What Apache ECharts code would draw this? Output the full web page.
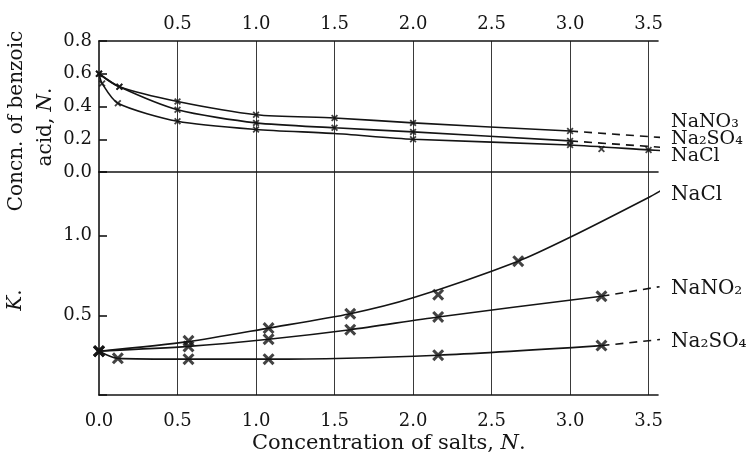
<!DOCTYPE html>
<html>
<head>
<meta charset="utf-8">
<script src="https://cdn.jsdelivr.net/npm/echarts@6/dist/echarts.min.js"></script>
<style>
html,body{margin:0;padding:0;background:#fff;}
#chart{width:746px;height:454px;}
</style>
</head>
<body>
<div id="chart"></div>
<script>
// upper panel - concn. of benzoic acid
var topNO3X = [0, 0.13, 0.5, 1.0, 1.5, 2.0, 3.0];
var topNO3Y = [0.60, 0.52, 0.43, 0.35, 0.33, 0.30, 0.25];
var topNO3DashX = [3.0, 3.59];
var topNO3DashY = [0.25, 0.21];

var topSO4X = [0, 0.13, 0.5, 1.0, 1.5, 2.0, 3.0];
var topSO4Y = [0.60, 0.52, 0.38, 0.30, 0.27, 0.245, 0.19];
var topSO4DashX = [3.0, 3.59];
var topSO4DashY = [0.19, 0.15];

var topClX = [0, 0.02, 0.12, 0.5, 1.0, 1.5, 2.0, 3.0, 3.5, 3.59];
var topClY = [0.60, 0.54, 0.42, 0.31, 0.26, 0.235, 0.20, 0.165, 0.135, 0.13];
var topClMarkX = [0, 0.02, 0.12, 0.5, 1.0, 2.0, 3.0, 3.2, 3.5];
var topClMarkY = [0.60, 0.54, 0.42, 0.31, 0.26, 0.20, 0.165, 0.14, 0.135];

// lower panel - K
var kClX = [0, 0.57, 1.08, 1.6, 2.0, 2.67, 3.0, 3.5, 3.59];
var kClY = [0.275, 0.335, 0.42, 0.51, 0.61, 0.84, 0.99, 1.24, 1.29];
var kClMarkX = [0, 0.57, 1.08, 1.6, 2.16, 2.67];
var kClMarkY = [0.275, 0.34, 0.42, 0.51, 0.63, 0.84];

var kNO2X = [0, 0.57, 1.08, 1.6, 2.16, 3.2];
var kNO2Y = [0.275, 0.305, 0.35, 0.41, 0.49, 0.62];
var kNO2DashX = [3.2, 3.57];
var kNO2DashY = [0.62, 0.68];

var kSO4X = [0, 0.12, 0.57, 1.08, 2.16, 3.2];
var kSO4Y = [0.275, 0.23, 0.225, 0.225, 0.25, 0.31];
var kSO4DashX = [3.2, 3.59];
var kSO4DashY = [0.31, 0.35];

var xTickLabels = ['0.0', '0.5', '1.0', '1.5', '2.0', '2.5', '3.0', '3.5'];
var topTickLabels = ['0.0', '0.2', '0.4', '0.6', '0.8'];
var kTickLabels = ['0.5', '1.0'];

var FONT = 'DejaVu Serif';
var INK = '#141414';
// filled "x" glyph for the plotted points
var CROSS = 'path://M0,1.8L1.8,0L5,3.2L8.2,0L10,1.8L6.8,5L10,8.2L8.2,10L5,6.8L1.8,10L0,8.2L3.2,5Z';

function pts(xs, ys) {
    return xs.map(function (x, i) { return [x, ys[i]]; });
}
function curve(xs, ys, xi, yi, dashed) {
    return {
        type: 'line', xAxisIndex: xi, yAxisIndex: yi,
        data: pts(xs, ys),
        smooth: dashed ? false : 0.25,
        symbol: 'none', showSymbol: false, clip: false, silent: true,
        lineStyle: { color: INK, width: 1.6, type: dashed ? [8, 6] : 'solid' },
        z: 3
    };
}
function marks(xs, ys, xi, yi, size) {
    return {
        type: 'scatter', xAxisIndex: xi, yAxisIndex: yi,
        data: pts(xs, ys), symbol: CROSS, symbolSize: size,
        itemStyle: { color: INK }, silent: true, z: 4
    };
}

function xAxisCfg(grid, pos, labels, margin) {
    return {
        gridIndex: grid, type: 'value', position: pos, min: 0, max: 3.56, interval: 0.5,
        axisLine: { show: true, onZero: false, lineStyle: { color: INK, width: 1.6 } },
        axisTick: { show: false },
        axisLabel: {
            show: labels !== null, margin: margin, fontFamily: FONT, fontSize: 18, color: INK,
            formatter: function (v) {
                var s = v.toFixed(1);
                return labels && labels.indexOf(s) >= 0 ? s : '';
            }
        },
        splitLine: { show: labels !== null, showMinLine: false, showMaxLine: false,
            lineStyle: { color: '#3a3a3a', width: 1 } }
    };
}
function yAxisCfg(grid, min, max, interval, labels) {
    return {
        gridIndex: grid, type: 'value', min: min, max: max, interval: interval,
        axisLine: { show: true, onZero: false, lineStyle: { color: INK, width: 1.6 } },
        axisTick: { show: true, inside: true, length: 8, lineStyle: { color: INK, width: 1.6 } },
        axisLabel: {
            margin: 7, fontFamily: FONT, fontSize: 18, color: INK,
            formatter: function (v) {
                var s = v.toFixed(1);
                return labels.indexOf(s) >= 0 ? s : '';
            }
        },
        splitLine: { show: false }
    };
}

var chart = echarts.init(document.getElementById('chart'));
var option = {
    backgroundColor: '#fff',
    animation: false,
    grid: [
        { left: 99, top: 41, width: 559, height: 131 },
        { left: 99, top: 172, width: 559, height: 223 }
    ],
    xAxis: [
        xAxisCfg(0, 'top', xTickLabels.slice(1), 8),
        xAxisCfg(0, 'bottom', null, 0),
        xAxisCfg(1, 'bottom', xTickLabels, 17)
    ],
    yAxis: [
        yAxisCfg(0, 0, 0.8, 0.2, topTickLabels),
        yAxisCfg(1, 0, 1.4, 0.5, kTickLabels)
    ],
    series: [
        curve(topNO3X, topNO3Y, 0, 0), curve(topNO3DashX, topNO3DashY, 0, 0, true), marks(topNO3X, topNO3Y, 0, 0, 7),
        curve(topSO4X, topSO4Y, 0, 0), curve(topSO4DashX, topSO4DashY, 0, 0, true), marks(topSO4X, topSO4Y, 0, 0, 7),
        curve(topClX, topClY, 0, 0), marks(topClMarkX, topClMarkY, 0, 0, 7),
        curve(kClX, kClY, 2, 1), marks(kClMarkX, kClMarkY, 2, 1, 12),
        curve(kNO2X, kNO2Y, 2, 1), curve(kNO2DashX, kNO2DashY, 2, 1, true), marks(kNO2X, kNO2Y, 2, 1, 12),
        curve(kSO4X, kSO4Y, 2, 1), curve(kSO4DashX, kSO4DashY, 2, 1, true), marks(kSO4X, kSO4Y, 2, 1, 12)
    ],
    graphic: [
        { type: 'text', x: 17, y: 121, rotation: Math.PI / 2,
          style: { text: 'Concn. of benzoic', font: '20px "DejaVu Serif"', fill: INK, align: 'center', verticalAlign: 'middle' } },
        { type: 'text', x: 46, y: 127, rotation: Math.PI / 2,
          style: { text: 'acid, {i|N}.', font: '20px "DejaVu Serif"', fill: INK, align: 'center', verticalAlign: 'middle',
                   rich: { i: { fontStyle: 'italic', fontFamily: FONT, fontSize: 20 } } } },
        { type: 'text', x: 16, y: 300, rotation: Math.PI / 2,
          style: { text: '{i|K}.', font: '20px "DejaVu Serif"', fill: INK, align: 'center', verticalAlign: 'middle',
                   rich: { i: { fontStyle: 'italic', fontFamily: FONT, fontSize: 20 } } } },
        { type: 'text', x: 252, y: 444,
          style: { text: 'Concentration of salts, {i|N}.', font: '21px "DejaVu Serif"', fill: INK, align: 'left', verticalAlign: 'middle',
                   rich: { i: { fontStyle: 'italic', fontFamily: FONT, fontSize: 21 } } } },
        { type: 'text', x: 671, y: 122, style: { text: 'NaNO₃', font: '19px "DejaVu Serif"', fill: INK, verticalAlign: 'middle' } },
        { type: 'text', x: 671, y: 139, style: { text: 'Na₂SO₄', font: '19px "DejaVu Serif"', fill: INK, verticalAlign: 'middle' } },
        { type: 'text', x: 671, y: 156, style: { text: 'NaCl', font: '19px "DejaVu Serif"', fill: INK, verticalAlign: 'middle' } },
        { type: 'text', x: 671, y: 195, style: { text: 'NaCl', font: '20px "DejaVu Serif"', fill: INK, verticalAlign: 'middle' } },
        { type: 'text', x: 671, y: 289, style: { text: 'NaNO₂', font: '20px "DejaVu Serif"', fill: INK, verticalAlign: 'middle' } },
        { type: 'text', x: 671, y: 342, style: { text: 'Na₂SO₄', font: '20px "DejaVu Serif"', fill: INK, verticalAlign: 'middle' } }
    ]
};
chart.setOption(option);
</script>
</body>
</html>
